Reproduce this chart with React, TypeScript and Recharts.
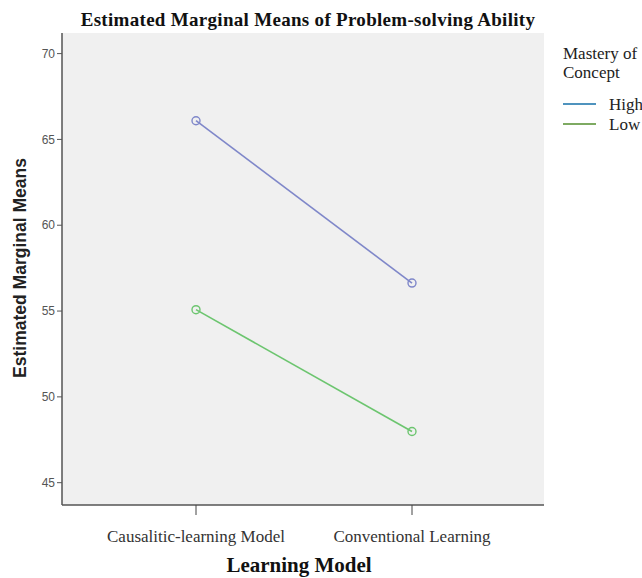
import { LineChart, Line, XAxis, YAxis, CartesianGrid, Label } from "recharts";

const models = ["Causalitic-learning Model", "Conventional Learning"];
const highMeans = [66.09, 56.63];
const lowMeans = [55.08, 47.98];
const yTicks = [45, 50, 55, 60, 65, 70];

const series = [
  { key: "high", name: "High", color: "#7f87c9", legendColor: "#4f93be" },
  { key: "low", name: "Low", color: "#6cc56f", legendColor: "#7eaa62" },
];

const data = models.map((model, i) => ({
  model,
  high: highMeans[i],
  low: lowMeans[i],
}));

const serif = "'Liberation Serif', 'Times New Roman', serif";
const sans = "'Liberation Sans', Arial, sans-serif";

function XTick(props: any) {
  const { x, y, payload } = props;
  return (
    <text x={x} y={y + 25} textAnchor="middle" fontFamily={serif} fontSize={17} fill="#333">
      {payload.value}
    </text>
  );
}

export default function App() {
  return (
    <div style={{ position: "absolute", left: 0, top: 0, width: 642, height: 578, background: "#fff" }}>
      <div
        style={{
          position: "absolute",
          left: 0,
          width: 616,
          top: 9,
          textAlign: "center",
          fontFamily: serif,
          fontWeight: "bold",
          fontSize: 19,
          letterSpacing: 0.3,
          color: "#111",
          lineHeight: "22px",
          whiteSpace: "nowrap",
        }}
      >
        Estimated Marginal Means of Problem-solving Ability
      </div>

      <LineChart width={642} height={578} data={data} margin={{ top: 33, right: 98, bottom: 0, left: 0 }}>
        <CartesianGrid fill="#f0f0f0" vertical={false} horizontal={false} />
        <XAxis
          dataKey="model"
          padding={{ left: 134, right: 132 }}
          height={73}
          axisLine={{ stroke: "#555", strokeWidth: 1.5 }}
          tickLine={{ stroke: "#444" }}
          tickSize={10}
          tick={<XTick />}
        >
          <Label
            content={() => (
              <text x={299} y={572} textAnchor="middle" fontFamily={serif} fontWeight="bold" fontSize={21} fill="#111">
                Learning Model
              </text>
            )}
          />
        </XAxis>
        <YAxis
          yAxisId="left"
          width={62}
          domain={[43.7, 71.2]}
          ticks={yTicks}
          axisLine={{ stroke: "#555", strokeWidth: 1.5 }}
          tickLine={{ stroke: "#555" }}
          tickSize={5}
          tick={{ fontFamily: sans, fontSize: 12, fill: "#555" }}
        >
          <Label
            content={() => (
              <text
                x={20}
                y={268}
                transform="rotate(-90 20 268)"
                textAnchor="middle"
                dominantBaseline="central"
                fontFamily={sans}
                fontWeight="bold"
                fontSize={17.5}
                fill="#222"
              >
                Estimated Marginal Means
              </text>
            )}
          />
        </YAxis>
        <YAxis
          yAxisId="right"
          orientation="right"
          width={0}
          domain={[43.7, 71.2]}
          tick={false}
          tickLine={false}
          axisLine={{ stroke: "#555", strokeWidth: 1.5 }}
        />
        {series.map((s) => (
          <Line
            key={s.key}
            yAxisId="left"
            dataKey={s.key}
            name={s.name}
            stroke={s.color}
            strokeWidth={1.6}
            dot={{ r: 4, fill: "none", stroke: s.color, strokeWidth: 1.4 }}
            activeDot={false}
            isAnimationActive={false}
          />
        ))}
      </LineChart>

      <div
        style={{
          position: "absolute",
          left: 563,
          top: 44,
          fontFamily: serif,
          fontSize: 17,
          color: "#222",
          lineHeight: "19px",
          whiteSpace: "nowrap",
        }}
      >
        <div>Mastery of</div>
        <div>Concept</div>
        <div style={{ marginTop: 12 }}>
          {series.map((s) => (
            <div key={s.key} style={{ display: "flex", alignItems: "center", height: 20 }}>
              <span style={{ display: "inline-block", width: 33, height: 0, borderTop: `2px solid ${s.legendColor}`, marginRight: 13 }} />
              <span>{s.name}</span>
            </div>
          ))}
        </div>
      </div>
    </div>
  );
}
